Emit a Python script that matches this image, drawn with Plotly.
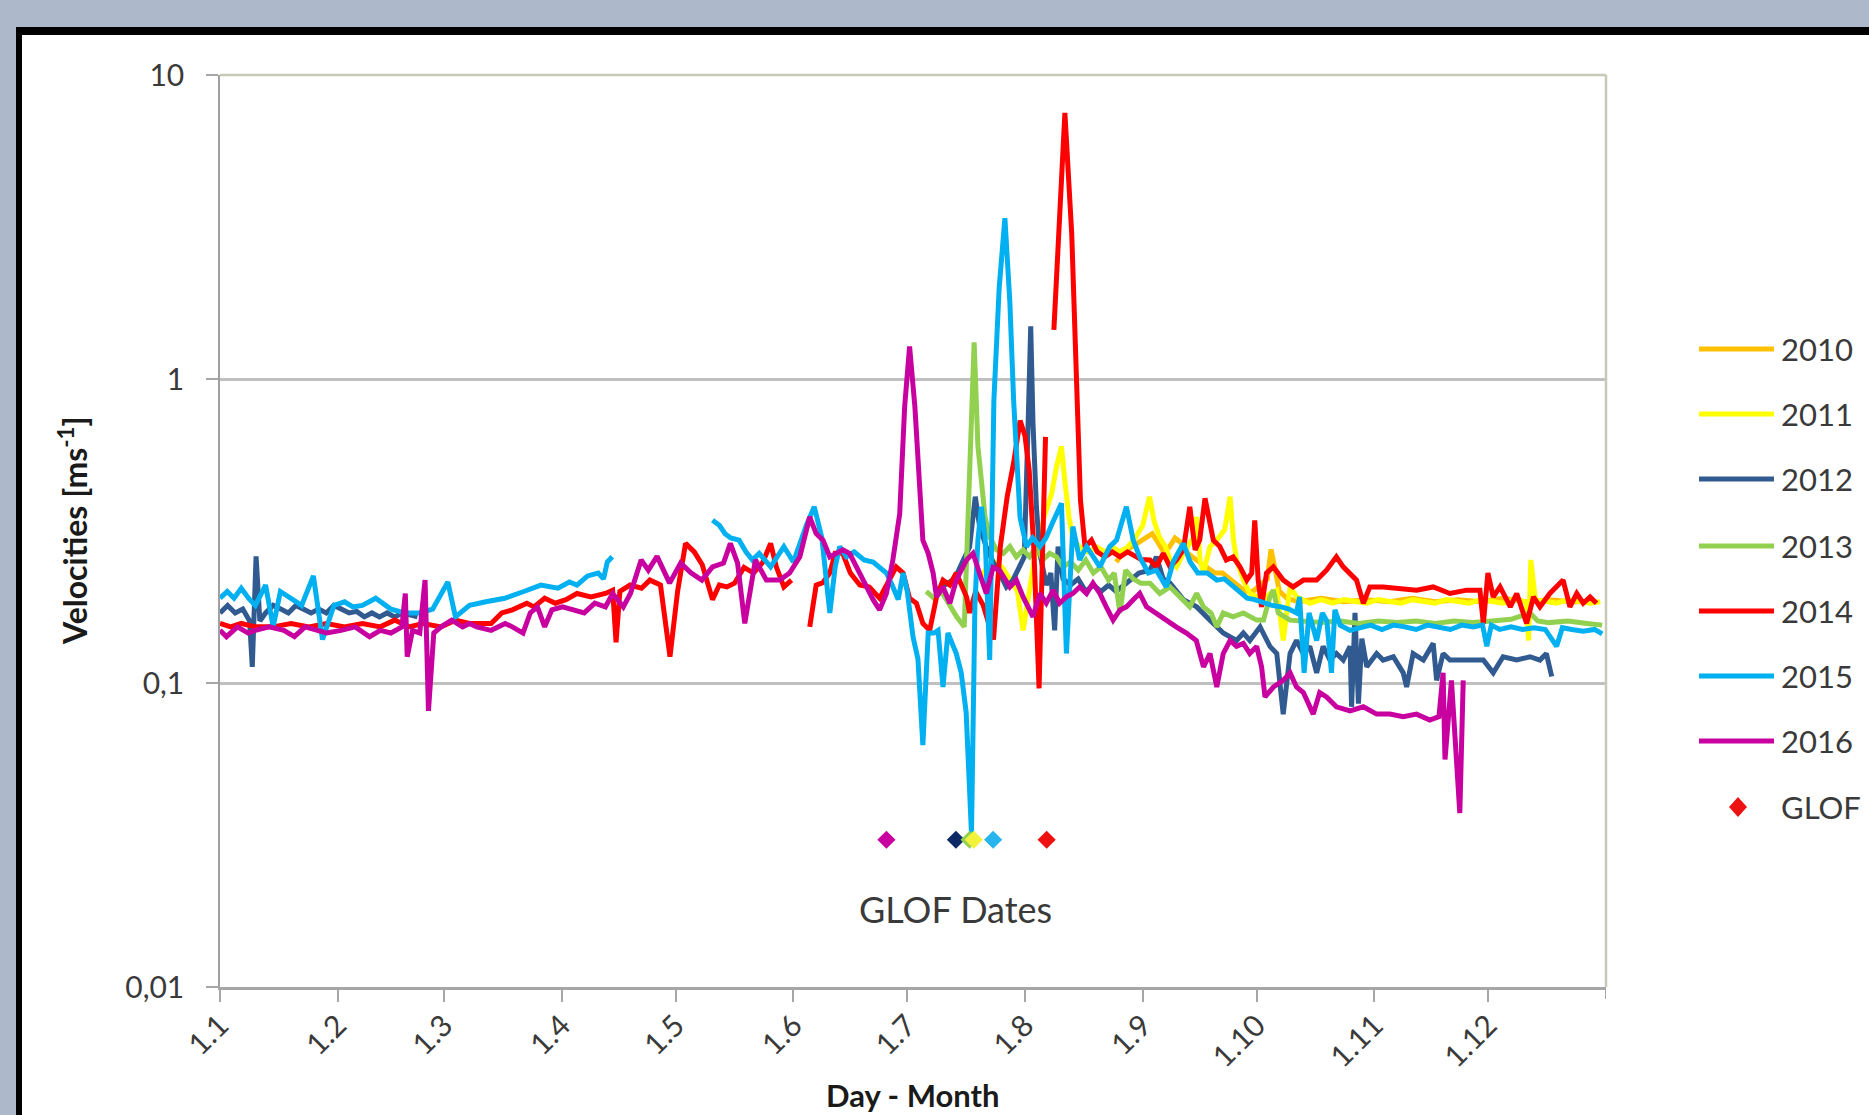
import plotly.graph_objects as go
import math

# ---------------- data (day of year, velocity m/s) ----------------
month_days = [0, 31, 59, 90, 120, 151, 181, 212, 243, 273, 304, 334]
month_labels = ["1.1", "1.2", "1.3", "1.4", "1.5", "1.6", "1.7", "1.8", "1.9", "1.10", "1.11", "1.12"]
year_end_day = 365
ytick_vals = [0.01, 0.1, 1, 10]
ytick_text = ["0,01", "0,1", "1", "10"]
years = ["2010", "2011", "2012", "2013", "2014", "2015", "2016"]

s2010 = [(236,0.25),(238,0.27),(240,0.28),(242,0.29),(244,0.3),(245.5,0.31),(247,0.29),(248.5,0.27),(250,0.28),
         (251.5,0.3),(253,0.29),(254.5,0.27),(256,0.26),(258,0.25),(260,0.24),(262,0.23),(264,0.23),(266,0.22),
         (268,0.21),(270,0.2),(272,0.2),(274,0.21),(275.8,0.22),(276.8,0.275),(277.8,0.24),(279,0.2),(281,0.19),
         (284,0.185),(290,0.19),(296,0.185),(302,0.188),(308,0.185),(314,0.19),(320,0.185),(326,0.188),(332,0.185),
         (338,0.19),(344,0.185),(350,0.188),(356,0.185),(362,0.185)]

s2011 = [(200,0.22),(202,0.24),(204,0.25),(206,0.24),(208,0.22),(210,0.2),(211.5,0.149),(213,0.2),(215,0.28),
         (217,0.35),(219,0.42),(220.3,0.515),(221.6,0.6),(222.5,0.46),(223.6,0.35),(224.7,0.295),(226.4,0.28),
         (228.5,0.27),(231,0.28),(233,0.27),(235,0.28),(237,0.27),(239,0.28),(241,0.3),(243,0.33),(244.8,0.41),
         (246,0.34),(247.5,0.3),(249,0.281),(250.2,0.254),(251.9,0.241),(253.7,0.267),(256.3,0.3),(257.2,0.352),
         (258.1,0.254),(259,0.23),(260.7,0.281),(262.5,0.295),(264.6,0.32),(266,0.41),(266.9,0.295),(267.7,0.254),
         (269.5,0.218),(271.2,0.197),(273,0.192),(274.8,0.188),(276.5,0.197),(278.3,0.202),(280,0.138),(281.8,0.207),
         (283.5,0.192),(287,0.183),(290,0.188),(293,0.183),(296,0.188),(299,0.185),(302,0.183),(305,0.188),
         (308,0.185),(311,0.183),(314,0.188),(317,0.185),(320,0.183),(323,0.188),(326,0.185),(329,0.183),(332,0.188),
         (335,0.185),(338,0.183),(341,0.188),(344,0.185),(344.6,0.138),(345.2,0.254),(346.4,0.188),(349,0.185),
         (352,0.183),(355,0.188),(358,0.185),(361,0.183),(363.5,0.185)]

s2012 = [(0,0.17),(2,0.18),(4,0.17),(6,0.175),(7.8,0.16),(8.5,0.113),(9.5,0.261),(10.5,0.16),(12,0.17),(14,0.18),
         (16,0.175),(18,0.17),(20,0.18),(22,0.175),(24,0.17),(26,0.175),(28,0.17),(30,0.18),(32,0.175),(34,0.17),
         (36,0.172),(38,0.165),(40,0.17),(42,0.165),(44,0.17),(46,0.165),(48,0.17),(50,0.168),(52,0.165),(54,None),
         (188,0.2),(191,0.21),(193.5,0.22),(195.5,0.25),(197.4,0.28),(198.9,0.41),(200,0.33),(201.8,0.28),(203.6,0.25),
         (205.3,0.23),(207.1,0.207),(208.8,0.218),(210.6,0.24),(211.8,0.26),(212.8,0.7),(213.5,1.49),(214.1,0.715),
         (215,0.38),(215.9,0.267),(217.6,0.21),(218.8,0.23),(219.8,0.149),(220.7,0.281),(222,0.22),(224,0.21),
         (226,0.22),(228,0.2),(230,0.21),(232,0.2),(234,0.21),(236,0.2),(238,0.21),(240,0.22),(242,0.23),
         (244.9,0.235),(246.6,0.26),(248.4,0.22),(250.2,0.213),(253.7,0.188),(257.2,0.178),(260.7,0.161),
         (264.2,0.146),(267.7,0.138),(269.5,0.146),(271.2,0.138),(273.9,0.153),(276.5,0.132),(278.3,0.125),
         (280,0.079),(281.8,0.125),(283.5,0.138),(285.3,0.125),(287,0.132),(288.8,0.108),(290.5,0.132),(292.3,0.119),
         (294,0.125),(295.8,0.119),(297.6,0.132),(298,0.0835),(298.9,0.17),(299.8,0.0855),(300.7,0.14),(302,0.113),
         (304.6,0.125),(306.3,0.119),(309,0.122),(311.6,0.108),(312.5,0.097),(314.2,0.125),(316.9,0.119),
         (319.5,0.135),(320.4,0.102),(322.1,0.125),(323.9,0.119),(326.5,0.119),(329.2,0.119),(332.7,0.119),
         (335.3,0.108),(337.9,0.122),(341.5,0.119),(345,0.122),(347.6,0.119),(349.3,0.125),(350.7,0.105)]

s2013 = [(186,0.2),(188,0.19),(190,0.2),(192,0.18),(194,0.165),(196,0.153),(197.3,0.4),(198.6,1.32),(199.6,0.6),
         (200.5,0.45),(201.5,0.35),(202.8,0.3),(204.5,0.274),(206.3,0.267),(208,0.281),(209.7,0.26),(211.5,0.274),
         (213.2,0.26),(215,0.281),(216.7,0.254),(218.5,0.267),(220.3,0.26),(222,0.241),(224,0.25),(226,0.235),
         (228,0.254),(230,0.23),(232,0.241),(234,0.218),(235.5,0.23),(237,0.17),(238.5,0.235),(240.5,0.22),
         (242.5,0.213),(244.9,0.213),(247.5,0.197),(250.2,0.207),(252.8,0.192),(255.4,0.178),(257.2,0.197),
         (259,0.178),(261,0.17),(262.5,0.153),(264.2,0.17),(266.8,0.165),(269.5,0.17),(273,0.161),(274.8,0.161),
         (276.5,0.192),(277.4,0.202),(278.7,0.17),(281.8,0.161),(285,0.16),(290,0.158),(295,0.16),(300,0.157),
         (305,0.16),(310,0.158),(315,0.16),(320,0.157),(325,0.16),(330,0.158),(335,0.16),(340,0.162),(345,0.17),
         (347,0.16),(350,0.158),(355,0.16),(360,0.157),(364,0.155)]

s2014 = [(0,0.157),(2.8,0.153),(5.6,0.157),(9.3,0.153),(14,0.153),(18.7,0.157),(23.4,0.153),(28.1,0.157),
         (32.8,0.153),(37.5,0.157),(42.2,0.153),(46,0.161),(49.7,0.153),(53.5,0.157),(58.2,0.153),(62,0.161),
         (65.7,0.157),(71.4,0.157),(74.2,0.17),(77,0.174),(80.8,0.183),(82.7,0.178),(85.5,0.19),(88.3,0.183),
         (91.1,0.188),(94,0.197),(97.7,0.192),(101.5,0.197),(103.4,0.202),(104.3,0.136),(105.3,0.2),(108,0.21),
         (111,0.205),(113.2,0.218),(116,0.21),(118.5,0.122),(120.5,0.2),(122.6,0.288),(124.9,0.27),(127,0.245),
         (129.7,0.188),(131.5,0.21),(133.5,0.207),(135.5,0.213),(138,0.24),(140.5,0.23),(143,0.25),(145,0.288),
         (146.5,0.241),(148.5,0.207),(150.5,0.218),(152,None),(155.3,0.153),(157,0.21),(158.8,0.214),(160.6,0.23),
         (162,0.267),(164,0.267),(166,0.23),(168.5,0.21),(171,0.207),(173.7,0.19),(176.4,0.22),(178.1,0.241),
         (179.9,0.23),(181.6,0.19),(183.4,0.183),(185.1,0.157),(186.9,0.149),(188.7,0.192),(190.4,0.218),
         (192.2,0.21),(193.9,0.23),(195.2,0.21),(196.6,0.192),(197.4,0.17),(199,0.2),(201,0.18),(203.7,0.139),
         (205.5,0.281),(207.3,0.41),(209,0.53),(210.7,0.73),(212,0.65),(213.1,0.5),(214.3,0.28),(215.7,0.096),
         (217.4,0.645),(218.3,None),(219.6,1.45),(220.8,2.8),(222.5,7.5),(224.3,3.0),(225.6,0.85),(226.6,0.4),
         (227.8,0.28),(229.5,0.295),(231,0.27),(233,0.26),(235,0.27),(237,0.26),(239,0.27),(241,0.26),(242.5,0.255),
         (244.9,0.254),(246.6,0.241),(248.4,0.267),(250.2,0.241),(251.9,0.254),(253.7,0.274),(255.4,0.38),
         (256.8,0.274),(258,0.295),(259.4,0.405),(261.6,0.295),(263.3,0.281),(265,0.254),(266.8,0.26),(268.6,0.241),
         (270.4,0.218),(271.7,0.23),(272.5,0.343),(273.4,0.218),(274.3,0.178),(275.6,0.23),(277.4,0.241),(280,0.218),
         (282.6,0.207),(285.3,0.218),(288.8,0.218),(291.4,0.235),(294,0.26),(295.8,0.241),(297.6,0.23),(299.3,0.218),
         (301.1,0.183),(302.8,0.207),(306.3,0.207),(310.7,0.204),(315.1,0.202),(319.5,0.207),(323.9,0.197),
         (328.3,0.202),(331.8,0.202),(332.7,0.157),(333.9,0.23),(335.3,0.192),(337.1,0.207),(339.8,0.178),
         (341.5,0.197),(344.1,0.157),(345.9,0.192),(347.6,0.178),(350.2,0.197),(353.7,0.218),(355.5,0.178),
         (357.3,0.197),(359,0.183),(360.8,0.192),(362.5,0.183)]

s2015 = [(0,0.19),(1.9,0.2),(3.7,0.19),(5.6,0.205),(7.5,0.19),(9.3,0.18),(12,0.21),(14,0.153),(15.9,0.2),
         (18.7,0.19),(21.5,0.18),(24.6,0.225),(27,0.139),(30,0.18),(32.8,0.185),(35,0.178),(37.5,0.18),(41,0.19),
         (45,0.175),(48.7,0.17),(52.5,0.17),(56,0.175),(60,0.215),(62,0.165),(65.7,0.18),(70,0.185),(75,0.19),
         (80,0.2),(84.5,0.21),(89,0.205),(92,0.215),(94,0.21),(96.8,0.225),(99.6,0.23),(101,0.22),(102,0.25),
         (103.3,0.26),(116,None),
         (129.7,0.343),(131.5,0.33),(133,0.31),(134.5,0.3),(136.7,0.295),(138.5,0.27),(140.2,0.254),(142,0.267),
         (145,0.241),(148.5,0.281),(151,0.25),(154.4,0.33),(156.5,0.38),(158.5,0.3),(160.6,0.17),(162,0.241),
         (163.2,0.281),(165,0.26),(167,0.27),(169.6,0.254),(172,0.25),(175.5,0.23),(177,0.21),(178.6,0.188),
         (179.9,0.23),(181,0.2),(182.5,0.142),(183.8,0.12),(185.1,0.0625),(186.5,0.146),(188,0.146),(189.1,0.149),
         (190.4,0.097),(191.7,0.146),(192.8,0.135),(193.9,0.125),(195.2,0.108),(196.5,0.08),(197.9,0.032),
         (198.8,0.18),(199.6,0.295),(200.5,0.38),(201.5,0.3),(202.7,0.119),(203.8,0.85),(205.2,2.0),(206.7,3.38),
         (208,1.8),(209,0.85),(209.7,0.54),(210.7,0.35),(212.4,0.281),(214,0.3),(215.9,0.281),(217.5,0.3),
         (219.4,0.34),(221.6,0.39),(222.9,0.125),(224.6,0.327),(226.4,0.254),(228.2,0.281),(230,0.26),(231.7,0.241),
         (234.3,0.281),(236.1,0.295),(238.7,0.38),(240.5,0.295),(242.2,0.26),(244.5,0.23),(246.6,0.235),
         (249.2,0.207),(251,0.25),(253.7,0.288),(255.5,0.25),(257.5,0.23),(260,0.23),(262.5,0.218),(264.5,0.22),
         (266.5,0.21),(268.5,0.2),(270.5,0.19),(272.5,0.188),(275,0.183),(277,0.18),(279.5,0.178),(281.5,0.175),
         (283.5,0.17),(284.3,0.192),(285.5,0.108),(286.8,0.17),(288.8,0.138),(290.3,0.17),(291.5,0.16),
         (292.7,0.108),(293.6,0.174),(295,0.155),(297.6,0.149),(300,0.152),(303,0.155),(306,0.15),(309,0.155),
         (312,0.153),(315,0.15),(318,0.155),(321,0.152),(324,0.15),(327,0.155),(330,0.153),(332.5,0.155),
         (333.6,0.132),(334.8,0.155),(337,0.15),(340,0.153),(343,0.15),(346,0.152),(349,0.15),(352,0.132),
         (353.5,0.152),(356,0.15),(359,0.148),(362,0.15),(364,0.145)]

s2016 = [(0,0.149),(1.7,0.142),(4.6,0.153),(7.4,0.146),(9.3,0.149),(13,0.153),(16.8,0.149),(19.6,0.142),
         (22.4,0.153),(25.3,0.149),(28.1,0.146),(31.9,0.149),(35.6,0.153),(39.4,0.142),(42.2,0.149),(45,0.146),
         (47.9,0.153),(48.8,0.197),(49.3,0.122),(50.7,0.149),(52.6,0.146),(54,0.218),(54.9,0.081),(56.3,0.146),
         (58.2,0.153),(61,0.161),(63.9,0.153),(65.7,0.157),(67.6,0.153),(71.4,0.149),(75.1,0.157),(77,0.153),
         (79.8,0.146),(81.7,0.17),(83.6,0.178),(85.5,0.153),(87.4,0.174),(90.2,0.178),(93,0.174),(95.9,0.17),
         (98.7,0.183),(101.5,0.178),(103.4,0.197),(106.2,0.178),(108.1,0.197),(110.9,0.254),(112.8,0.235),
         (115.1,0.261),(118.4,0.213),(121.3,0.248),(124.1,0.23),(126.9,0.218),(129.7,0.241),(132.6,0.248),
         (134.4,0.288),(136.3,0.248),(138.2,0.157),(141,0.254),(143.9,0.218),(147.4,0.218),(150,0.23),(152.7,0.26),
         (155.3,0.352),(157,0.31),(158.8,0.295),(160.6,0.26),(162.3,0.267),(164,0.274),(165.8,0.267),(167.6,0.241),
         (170.2,0.207),(172,0.188),(173.7,0.174),(175.5,0.197),(177.2,0.254),(179,0.36),(180.3,0.81),(181.6,1.28),
         (183,0.81),(184.3,0.43),(185.1,0.295),(186.5,0.267),(187.8,0.23),(188.7,0.192),(190.4,0.207),(192.2,0.183),
         (193.9,0.218),(196.6,0.254),(198.3,0.267),(200,0.23),(201.8,0.197),(203.6,0.24),(205.3,0.235),(208,0.207),
         (209.7,0.218),(211.5,0.192),(214.1,0.165),(215.9,0.197),(217.6,0.183),(219.4,0.202),(221.1,0.183),
         (222.9,0.192),(224.6,0.197),(226.4,0.207),(228.2,0.197),(229.9,0.213),(231.7,0.197),(233.4,0.178),
         (235.2,0.161),(237,0.174),(238.7,0.178),(240.5,0.188),(242.2,0.197),(244,0.178),(246.6,0.17),(249.2,0.161),
         (251.8,0.153),(254.5,0.146),(257.1,0.138),(259,0.113),(260.7,0.125),(262.5,0.097),(264.2,0.125),(266,0.138),
         (267.7,0.132),(269.5,0.135),(271.2,0.125),(273,0.132),(274.3,0.113),(275.2,0.09),(277.4,0.097),(280,0.102),
         (281.8,0.108),(283.5,0.097),(285.3,0.093),(287.9,0.079),(289.6,0.093),(291.4,0.09),(294,0.0835),
         (297.6,0.081),(301.1,0.0835),(304.6,0.079),(308.1,0.079),(311.6,0.0775),(315.1,0.079),(318.6,0.0755),
         (321,0.0775),(322.1,0.108),(322.6,0.056),(323.5,0.0755),(324.3,0.102),(326.5,0.0373),(327.4,0.102)]

glof_days = [175.5, 193.8, 197.4, 198.5, 203.6, 217.7]
glof_vals = [0.0305, 0.0305, 0.0305, 0.0305, 0.0305, 0.0305]
glof_colors = ["#C800A0", "#0E2A66", "#92D050", "#F2F23A", "#28B4EC", "#EE1111"]

series = [s2010, s2011, s2012, s2013, s2014, s2015, s2016]
colors = ["#FFC000", "#FFFF00", "#305A90", "#92D050", "#FF0000", "#00B0F0", "#C800A0"]

# ---------------- geometry helpers (pixel -> paper) ----------------
W, H = 1869, 1115
L, R, T, B = 220, 1606, 75, 987


def px(x):
    return (x - L) / (R - L)


def py(y):
    return (B - y) / (B - T)


FONT = "Lato, 'Open Sans', 'DejaVu Sans', sans-serif"
TXT = "#3A3A3A"
AXC = "#A6A6A6"

fig = go.Figure()
for name, s, c in zip(years, series, colors):
    xs = [p[0] for p in s]
    ys = [p[1] for p in s]
    fig.add_trace(go.Scatter(x=xs, y=ys, mode="lines", name=name, connectgaps=False,
                             line=dict(color=c, width=5), showlegend=False))

fig.add_trace(go.Scatter(x=glof_days, y=glof_vals, mode="markers", name="GLOF", showlegend=False,
                         marker=dict(symbol="diamond", size=14, color=glof_colors, line=dict(width=0))))

shapes = [
    # black frame / white card over the slate page
    dict(type="rect", xref="paper", yref="paper", x0=px(16), x1=px(1900), y0=py(1150), y1=py(27),
         fillcolor="#000000", line=dict(width=0), layer="below"),
    dict(type="rect", xref="paper", yref="paper", x0=px(22), x1=px(1900), y0=py(1150), y1=py(35),
         fillcolor="#FFFFFF", line=dict(width=0), layer="below"),
    # plot-area frame (top and right)
    dict(type="line", xref="paper", yref="paper", x0=0, x1=1, y0=1, y1=1,
         line=dict(color="#C8C8B6", width=2.5), layer="above"),
    dict(type="line", xref="paper", yref="paper", x0=1, x1=1, y0=0, y1=1,
         line=dict(color="#C8C8B6", width=2.5), layer="above"),
    # closing tick mark at the end of the year
    dict(type="line", xref="x", yref="paper", x0=year_end_day, x1=year_end_day, y0=0, y1=-12 / (B - T),
         line=dict(color=AXC, width=2)),
]

annotations = []
leg_y = [349, 414, 479, 546, 611, 676, 741]
for name, c, yy in zip(years, colors, leg_y):
    shapes.append(dict(type="line", xref="paper", yref="paper", x0=px(1699), x1=px(1774),
                       y0=py(yy), y1=py(yy), line=dict(color=c, width=5)))
    annotations.append(dict(text=name, xref="paper", yref="paper", x=px(1779), y=py(yy),
                            xanchor="left", yanchor="middle", showarrow=False,
                            font=dict(family=FONT, size=31, color=TXT)))
gy = 807
gx = 1738
shapes.append(dict(type="path", xref="paper", yref="paper",
                   path=f"M {px(gx-9)},{py(gy)} L {px(gx)},{py(gy-10)} L {px(gx+9)},{py(gy)} L {px(gx)},{py(gy+10)} Z",
                   fillcolor="#EE1111", line=dict(width=0)))
annotations.append(dict(text="GLOF", xref="paper", yref="paper", x=px(1779), y=py(gy),
                        xanchor="left", yanchor="middle", showarrow=False,
                        font=dict(family=FONT, size=31, color=TXT)))

# axis titles and in-plot label
annotations.append(dict(text="<b>Velocities [ms<sup>-1</sup>]</b>", xref="paper", yref="paper",
                        x=px(73), y=0.5, textangle=-90, xanchor="center", yanchor="middle",
                        showarrow=False, font=dict(family=FONT, size=32, color="#1A1A1A")))
annotations.append(dict(text="<b>Day - Month</b>", xref="paper", yref="paper",
                        x=px(913), y=py(1095), xanchor="center", yanchor="middle",
                        showarrow=False, font=dict(family=FONT, size=31, color="#1A1A1A")))
annotations.append(dict(text="GLOF Dates", xref="x", yref="y", x=193.6, y=math.log10(0.0181),
                        xanchor="center", yanchor="middle", showarrow=False,
                        font=dict(family=FONT, size=36, color=TXT)))

fig.update_layout(
    width=W, height=H,
    margin=dict(l=L, r=W - R, t=T, b=H - B, pad=0),
    paper_bgcolor="#AEB8CB",
    plot_bgcolor="#FFFFFF",
    showlegend=False,
    shapes=shapes,
    annotations=annotations,
    xaxis=dict(range=[0, year_end_day], tickmode="array", tickvals=month_days, ticktext=month_labels,
               tickangle=-45, ticks="outside", ticklen=12, tickwidth=2, tickcolor=AXC,
               showline=True, linecolor=AXC, linewidth=2.5, showgrid=False, zeroline=False,
               tickfont=dict(family=FONT, size=30, color=TXT), ticklabelstandoff=-6, fixedrange=True),
    yaxis=dict(type="log", range=[-2, 1], tickmode="array", tickvals=ytick_vals, ticktext=ytick_text,
               ticks="outside", ticklen=12, tickwidth=2, tickcolor=AXC,
               showline=True, linecolor="#A0A0A0", linewidth=1.5, showgrid=True, gridcolor="#C0C0C0",
               gridwidth=2.5, zeroline=False, tickfont=dict(family=FONT, size=30, color=TXT),
               ticklabelstandoff=16, fixedrange=True),
)

fig.write_html("out.html", config={"displayModeBar": False},
               post_script="document.body.style.margin='0';document.body.style.overflow='hidden';")
